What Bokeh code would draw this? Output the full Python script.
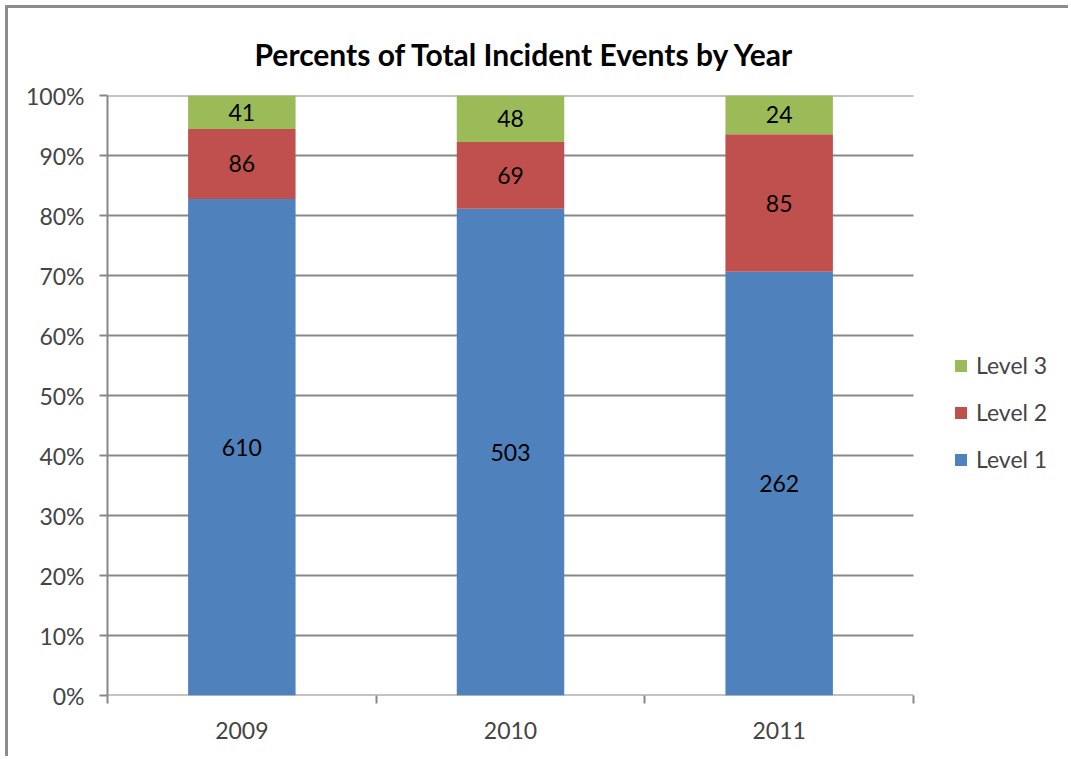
from bokeh.plotting import figure
from bokeh.models import (Range1d, FixedTicker, NumeralTickFormatter, Legend, LegendItem,
                          ColumnDataSource, LabelSet)
from bokeh.core.properties import value
from bokeh.embed import file_html
from bokeh.resources import INLINE

# ---- data ----
years = ["2009", "2010", "2011"]
level1 = [610, 503, 262]
level2 = [86, 69, 85]
level3 = [41, 48, 24]
series_names = ["Level 1", "Level 2", "Level 3"]
colors = ["#4F81BD", "#C0504D", "#9BBB59"]
y_ticks = [0, 0.1, 0.2, 0.3, 0.4, 0.5, 0.6, 0.7, 0.8, 0.9, 1.0]

FONT = "Lato"
GRAY = "#878787"

n = len(years)
totals = [a + b + c for a, b, c in zip(level1, level2, level3)]
p1 = [a / t for a, t in zip(level1, totals)]
p2 = [a / t for a, t in zip(level2, totals)]
p3 = [a / t for a, t in zip(level3, totals)]
xs = [i + 0.5 for i in range(n)]

src = ColumnDataSource(dict(x=xs, l1=p1, l2=p2, l3=p3))

# plotting area extends to the right edge so the legend can sit inside it;
# the category area spans 0..n (806 px), the remainder holds the legend
FRAME_W = 1063 - 99
x_end = n * FRAME_W / 806.0

p = figure(width=1063, height=751, output_backend="svg", toolbar_location=None,
           x_range=Range1d(0, x_end), y_range=Range1d(0, 1),
           min_border_left=99, min_border_right=0, min_border_top=87, min_border_bottom=64)
p.styles = {"margin-left": "5px", "margin-top": "5px",
            "border-left": "3px solid #8c8c8c", "border-top": "3px solid #8c8c8c"}
p.outline_line_color = None
p.background_fill_color = "white"
p.border_fill_color = "white"

# horizontal gridlines (and the category axis line at 0%), only over the category area
p.segment(x0=[0] * len(y_ticks), x1=[n] * len(y_ticks), y0=y_ticks, y1=y_ticks,
          line_color=GRAY, line_width=2)

renderers = p.vbar_stack(["l1", "l2", "l3"], x="x", width=0.4, color=colors,
                         line_color=None, source=src)

# segment labels
mids1 = [v / 2 for v in p1]
mids2 = [a + b / 2 for a, b in zip(p1, p2)]
mids3 = [a + b + c / 2 for a, b, c in zip(p1, p2, p3)]
lab_src = ColumnDataSource(dict(
    x=xs * 3,
    y=mids1 + mids2 + mids3,
    t=[str(v) for v in level1 + level2 + level3]))
p.add_layout(LabelSet(x="x", y="y", text="t", source=lab_src, text_align="center",
                      text_baseline="middle", text_font=value(FONT), text_font_size=value("23px"),
                      text_color="black"))

# title
p.title.text = "Percents of Total Incident Events by Year"
p.title.text_font = FONT
p.title.text_font_size = "30px"
p.title.text_font_style = "bold"
p.title.text_color = "black"
p.title.align = "left"
p.title.offset = 147
p.title.standoff = 48

# y axis
p.yaxis.ticker = FixedTicker(ticks=y_ticks)
p.yaxis.formatter = NumeralTickFormatter(format="0%")
p.yaxis.axis_line_color = GRAY
p.yaxis.axis_line_width = 2
p.yaxis.major_tick_line_color = GRAY
p.yaxis.major_tick_line_width = 2
p.yaxis.major_tick_out = 8
p.yaxis.major_tick_in = 0
p.yaxis.minor_tick_line_color = None
p.yaxis.major_label_text_font = FONT
p.yaxis.major_label_text_font_size = "23px"
p.yaxis.major_label_standoff = 15

# x axis (line drawn by the 0% segment; ticks between categories)
p.xaxis.ticker = FixedTicker(ticks=xs, minor_ticks=list(range(n + 1)))
p.xaxis.major_label_overrides = {x: y for x, y in zip(xs, years)}
p.xaxis.axis_line_color = None
p.xaxis.major_tick_line_color = None
p.xaxis.major_tick_out = 0
p.xaxis.major_tick_in = 0
p.xaxis.minor_tick_line_color = GRAY
p.xaxis.minor_tick_line_width = 2
p.xaxis.minor_tick_out = 8
p.xaxis.minor_tick_in = 0
p.xaxis.major_label_text_font = FONT
p.xaxis.major_label_text_font_size = "23px"
p.xaxis.major_label_standoff = 18

# grid
p.xgrid.grid_line_color = None
p.ygrid.grid_line_color = None

# legend
items = [LegendItem(label=nm, renderers=[r]) for nm, r in zip(series_names, renderers)][::-1]
legend = Legend(items=items, location=(846, 222), border_line_color=None,
                background_fill_alpha=0, padding=0, margin=0, spacing=19,
                glyph_width=15, glyph_height=15, label_text_font=FONT,
                label_text_font_size="23px", label_standoff=8)
p.add_layout(legend)

open("out.html", "w").write(file_html(p, INLINE))
